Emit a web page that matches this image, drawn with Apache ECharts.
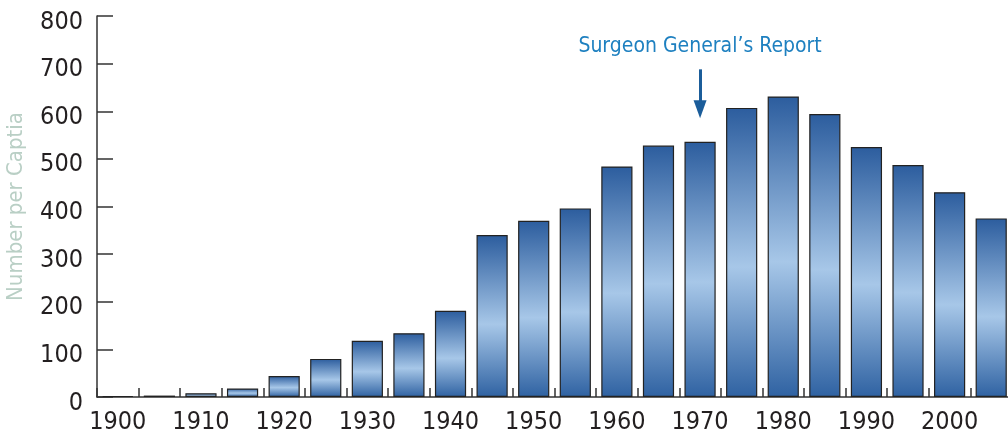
<!DOCTYPE html>
<html>
<head>
<meta charset="utf-8">
<script src="https://cdn.jsdelivr.net/npm/echarts@6/dist/echarts.min.js"></script>
<style>
  html, body { margin: 0; padding: 0; background: #fff; }
  #chart { width: 1008px; height: 436px; }
</style>
</head>
<body>
<div id="chart"></div>
<script>
// years (every 5 years) and the per capita numbers
var years = ['1900', '1905', '1910', '1915', '1920', '1925', '1930', '1935', '1940', '1945', '1950',
    '1955', '1960', '1965', '1970', '1975', '1980', '1985', '1990', '1995', '2000', '2005'];
var perCapita = [2, 3, 8, 18, 44, 80, 118, 134, 181, 340, 370,
    396, 484, 528, 536, 607, 631, 594, 525, 487, 430, 375];
var yTicks = [0, 100, 200, 300, 400, 500, 600, 700, 800];

var font = "'Liberation Sans Narrow', 'DejaVu Sans Condensed', sans-serif";

// gradient used by every bar: dark - light - dark
var barColor = new echarts.graphic.LinearGradient(0, 0, 0, 1, [
    { offset: 0, color: '#2c5d9e' },
    { offset: 0.55, color: '#a7c7e8' },
    { offset: 1, color: '#2f62a2' }
]);

var option = {
    animation: false,
    grid: { left: 97, right: -4, top: 16, bottom: 39, outerBoundsMode: 'none', containLabel: false },
    xAxis: {
        type: 'category',
        data: years,
        boundaryGap: true,
        axisLine: { lineStyle: { color: '#333', width: 1.5 } },
        axisTick: { show: true, inside: true, length: 9, interval: 0, lineStyle: { color: '#333', width: 1.5 } },
        axisLabel: {
            interval: 1,
            color: '#231f20',
            fontFamily: font,
            fontSize: 25,
            margin: 13
        }
    },
    yAxis: {
        type: 'value',
        min: yTicks[0],
        max: yTicks[yTicks.length - 1],
        interval: 100,
        name: 'Number per Captia',
        nameLocation: 'middle',
        nameRotate: 90,
        nameGap: 70,
        nameTextStyle: { color: '#b9cfc5', fontFamily: font, fontSize: 22 },
        splitLine: { show: false },
        axisLine: { show: true, lineStyle: { color: '#333', width: 1.5 } },
        axisTick: { show: true, inside: true, length: 16, lineStyle: { color: '#333', width: 1.5 } },
        axisLabel: {
            color: '#231f20',
            margin: 14,
            formatter: '{v|{value}}',
            rich: {
                v: {
                    color: '#231f20',
                    fontFamily: font,
                    fontSize: 25,
                    padding: [12, 0, 0, 0]
                }
            }
        }
    },
    series: [{
        type: 'bar',
        data: perCapita,
        barCategoryGap: '25%',
        itemStyle: {
            color: barColor,
            borderColor: '#222',
            borderWidth: 1.2
        },
        markLine: {
            silent: true,
            symbolSize: [13, 18],
            lineStyle: { color: '#1b5d9a', width: 3, type: 'solid' },
            label: { show: false },
            data: [[
                { coord: ['1970', 688], symbol: 'none' },
                { coord: ['1970', 604], symbol: 'triangle', symbolRotate: 180 }
            ]]
        },
        markPoint: {
            silent: true,
            symbol: 'circle',
            symbolSize: 0,
            label: {
                show: true,
                formatter: 'Surgeon General\u2019s Report',
                color: '#1e80c0',
                fontFamily: font,
                fontSize: 21
            },
            data: [{ coord: ['1970', 736] }]
        }
    }]
};

var chart = echarts.init(document.getElementById('chart'));
chart.setOption(option);
</script>
</body>
</html>
